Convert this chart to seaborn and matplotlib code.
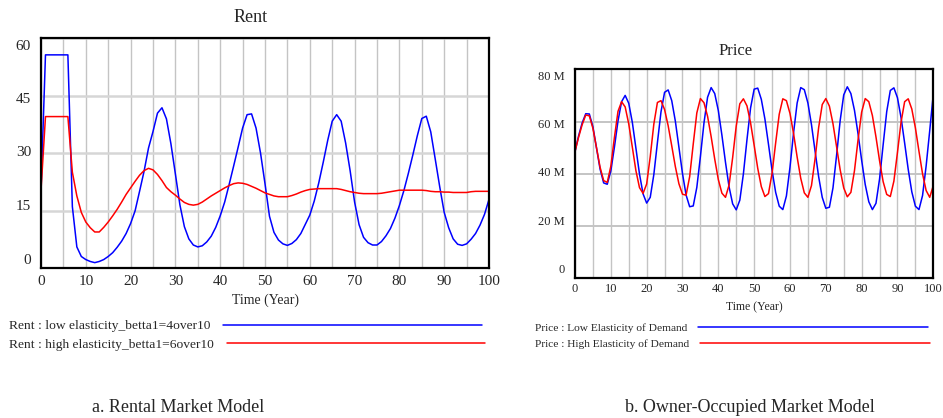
import numpy as np
import pandas as pd
import matplotlib
matplotlib.use('Agg')
import matplotlib.pyplot as plt
from matplotlib.transforms import blended_transform_factory, offset_copy
import seaborn as sns

# time axis (years)
years = list(range(0, 101))

# Rental market model: rent under two demand elasticities
rent_low = [20.3, 55.6, 55.6, 55.6, 55.6, 55.6, 55.6, 16.0, 5.5, 3.0,
            2.2, 1.7, 1.4, 1.7, 2.2, 3.0, 4.0, 5.4, 7.0, 9.0,
            11.6, 14.9, 20.0, 25.2, 31.3, 35.6, 40.4, 41.8, 38.9, 32.4,
            24.5, 16.5, 10.8, 7.6, 6.0, 5.5, 5.8, 6.8, 8.3, 10.6,
            13.6, 17.2, 21.8, 26.6, 31.5, 36.5, 40.0, 40.2, 36.5, 30.0,
            22.0, 13.5, 9.3, 7.3, 6.3, 5.9, 6.4, 7.4, 9.0, 11.4,
            13.8, 17.5, 22.2, 27.6, 33.3, 38.3, 40.0, 38.3, 32.6, 25.4,
            17.2, 11.3, 8.0, 6.6, 6.0, 6.0, 6.9, 8.4, 10.3, 13.0,
            16.3, 20.2, 24.7, 29.5, 34.5, 39.0, 39.6, 35.5, 28.4, 21.2,
            14.5, 10.5, 7.6, 6.2, 5.9, 6.3, 7.5, 9.0, 11.2, 14.0,
            17.9]
rent_high = [20.3, 39.5, 39.5, 39.5, 39.5, 39.5, 39.5, 25.0, 18.8, 14.5,
             12.0, 10.5, 9.4, 9.4, 10.6, 12.0, 13.6, 15.3, 17.2, 19.2,
             20.9, 22.6, 24.2, 25.4, 26.0, 25.6, 24.4, 22.8, 21.0, 19.9,
             19.0, 18.0, 17.1, 16.6, 16.4, 16.6, 17.2, 18.0, 18.8, 19.5,
             20.2, 20.9, 21.5, 22.0, 22.2, 22.1, 21.8, 21.3, 20.8, 20.2,
             19.6, 19.2, 18.8, 18.6, 18.6, 18.6, 18.9, 19.3, 19.8, 20.2,
             20.5, 20.6, 20.7, 20.7, 20.7, 20.7, 20.7, 20.5, 20.2, 19.9,
             19.7, 19.5, 19.4, 19.4, 19.4, 19.4, 19.5, 19.7, 19.9, 20.1,
             20.3, 20.3, 20.3, 20.3, 20.3, 20.3, 20.2, 20.0, 19.9, 19.9,
             19.8, 19.8, 19.7, 19.7, 19.7, 19.7, 19.9, 20.0, 20.0, 20.0,
             20.0]

# Owner-occupied market model: price (millions)
price_low = [48.5, 54.5, 59.5, 63.0, 62.9, 58.0, 49.9, 41.8, 36.5, 36.0,
             41.1, 50.2, 60.2, 67.6, 70.0, 67.0, 59.7, 49.8, 39.9, 32.3,
             28.8, 31.0, 39.7, 51.9, 63.7, 71.2, 72.1, 68.0, 60.2, 50.2,
             40.1, 31.9, 27.4, 27.7, 34.8, 46.6, 59.5, 69.3, 73.0, 70.7,
             64.2, 54.8, 44.4, 35.0, 28.5, 26.2, 29.9, 40.0, 53.1, 65.2,
             72.4, 72.8, 68.5, 61.0, 51.3, 41.3, 32.9, 27.6, 26.3, 31.5,
             42.5, 55.7, 67.1, 73.0, 72.2, 67.1, 58.8, 48.7, 38.9, 31.0,
             26.8, 27.2, 34.6, 47.0, 60.3, 70.2, 73.3, 70.7, 64.3, 55.3,
             45.2, 35.9, 29.3, 26.3, 28.7, 38.0, 51.1, 63.8, 71.9, 72.9,
             69.1, 61.5, 51.8, 41.7, 33.1, 27.6, 26.3, 31.7, 43.0, 56.5,
             70.5]
price_high = [48.5, 54.0, 58.8, 62.5, 62.2, 57.4, 50.0, 42.5, 37.4, 36.7,
              42.9, 53.9, 63.9, 67.6, 65.6, 59.1, 50.2, 41.2, 34.7, 32.5,
              36.1, 46.6, 59.0, 67.3, 68.0, 64.6, 58.4, 50.7, 42.8, 36.2,
              32.2, 31.8, 38.9, 51.4, 63.3, 68.8, 67.2, 62.0, 54.2, 45.6,
              37.8, 32.6, 31.0, 35.7, 46.2, 58.3, 66.8, 68.7, 66.0, 59.5,
              50.9, 42.1, 35.1, 31.3, 32.4, 40.2, 51.8, 62.8, 68.7, 68.0,
              63.1, 55.4, 46.4, 38.3, 32.7, 31.0, 35.5, 45.7, 57.7, 66.5,
              68.8, 65.9, 59.2, 50.4, 41.6, 34.6, 31.2, 32.9, 41.2, 53.0,
              63.6, 68.8, 67.6, 62.3, 54.1, 45.0, 37.0, 32.1, 31.3, 37.2,
              48.2, 59.8, 67.6, 68.7, 64.8, 57.6, 48.6, 40.0, 33.6, 31.0,
              35.5]

rent_labels = ['Rent : low elasticity_betta1=4over10',
               'Rent : high elasticity_betta1=6over10']
price_labels = ['Price : Low Elasticity of Demand',
                'Price : High Elasticity of Demand']

rent_ticks = [0, 15, 30, 45, 60]
price_ticks = [0, 20, 40, 60, 80]
price_tick_labels = ['0', '20 M', '40 M', '60 M', '80 M']

colors = ['#0000ff', '#ff0000']

sns.set_style('white')
plt.rcParams['font.family'] = ['Liberation Serif', 'DejaVu Serif']

rent_df = pd.DataFrame({
    'Time': years + years,
    'Rent': rent_low + rent_high,
    'Series': [rent_labels[0]] * len(years) + [rent_labels[1]] * len(years),
})
price_df = pd.DataFrame({
    'Time': years + years,
    'Price': price_low + price_high,
    'Series': [price_labels[0]] * len(years) + [price_labels[1]] * len(years),
})

fig = plt.figure(figsize=(9.43, 4.18), dpi=100)
W, H = 943, 418
ax1 = fig.add_axes([41 / W, 1 - 268 / H, 448 / W, 230 / H])
ax2 = fig.add_axes([575 / W, 1 - 278.3 / H, 358.3 / W, 209 / H])

sns.lineplot(data=rent_df, x='Time', y='Rent', hue='Series', hue_order=rent_labels,
             palette=colors, estimator=None, linewidth=1.1, ax=ax1, legend=False)
sns.lineplot(data=price_df, x='Time', y='Price', hue='Series', hue_order=price_labels,
             palette=colors, estimator=None, linewidth=1.1, ax=ax2, legend=False)


def style_axes(ax, ymax, yticks, ylabels, label_shift, xfs, yfs, xpad, hgrid_lw, hgrid_col):
    ax.set_xlim(0, 100)
    ax.set_ylim(0, ymax)
    ax.set_xticks(range(0, 101, 10))
    ax.set_xticks(range(0, 101, 5), minor=True)
    ax.set_yticks(yticks)
    ax.set_yticklabels([])
    ax.grid(which='both', axis='x', color='#c4c4c4', linewidth=1.0)
    ax.grid(which='major', axis='y', color=hgrid_col, linewidth=hgrid_lw)
    ax.set_axisbelow(True)
    ax.tick_params(axis='both', which='both', length=0)
    ax.tick_params(axis='x', labelsize=xfs, pad=xpad)
    ax.set_xlabel('')
    ax.set_ylabel('')
    for s in ax.spines.values():
        s.set_visible(True)
        s.set_color('black')
        s.set_linewidth(1.6)
    # Vensim-style y labels, pulled slightly toward the middle
    trans = blended_transform_factory(ax.transAxes, ax.transData)
    for v, lab, dy in zip(yticks, ylabels, label_shift):
        ax.text(0, v, lab, ha='right', va='center', fontsize=yfs,
                transform=offset_copy(trans, fig=fig, x=-10, y=dy, units='dots'))


style_axes(ax1, 60, rent_ticks, [str(t) for t in rent_ticks], [8, 4, 0, -4, -9],
           11, 11, 5, 1.8, '#d6d6d6')
style_axes(ax2, 80, price_ticks, price_tick_labels, [8, 4, 1, -3, -8],
           9, 9, 3.5, 1.4, '#c4c4c4')

# titles and axis labels
fig.text(251 / W, 1 - 17 / H, 'Rent', ha='center', va='center', fontsize=13)
fig.text(736 / W, 1 - 51 / H, 'Price', ha='center', va='center', fontsize=12)
fig.text(265 / W, 1 - 300.5 / H, 'Time (Year)', ha='center', va='center', fontsize=10)
fig.text(754 / W, 1 - 307 / H, 'Time (Year)', ha='center', va='center', fontsize=8.5)

# legends: text first, then the line
leg1 = fig.legend(handles=ax1.lines[:2], labels=rent_labels, loc='upper left',
                  bbox_to_anchor=(9 / W, 1 - 320 / H), frameon=False, markerfirst=False,
                  handlelength=19.2, handletextpad=0.95, labelspacing=0.45,
                  borderpad=0, borderaxespad=0, fontsize=9.7)
leg2 = fig.legend(handles=ax2.lines[:2], labels=price_labels, loc='upper left',
                  bbox_to_anchor=(535 / W, 1 - 323 / H), frameon=False, markerfirst=False,
                  handlelength=20.2, handletextpad=0.95, labelspacing=0.5,
                  borderpad=0, borderaxespad=0, fontsize=8.2)
# keep the legend texts flush left like the original
for leg in (leg1, leg2):
    for col in leg._legend_handle_box.get_children():
        col.align = 'left'

# panel captions
fig.text(178 / W, 1 - 407 / H, 'a. Rental Market Model', ha='center', va='center', fontsize=13)
fig.text(750 / W, 1 - 407 / H, 'b. Owner-Occupied Market Model', ha='center', va='center', fontsize=13)

fig.savefig('out.png', dpi=100, facecolor='white')
